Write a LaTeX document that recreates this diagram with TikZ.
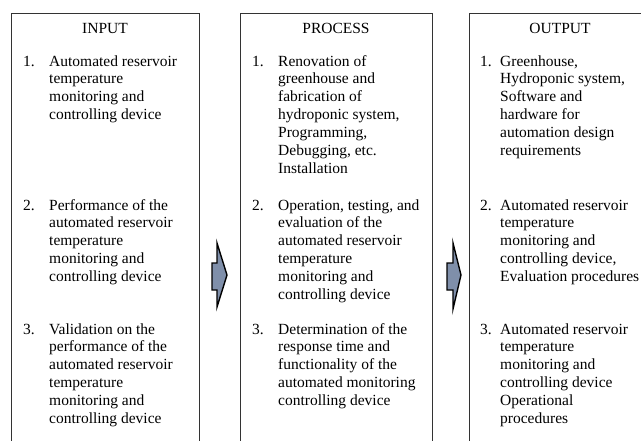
\documentclass[tikz,border=0pt]{standalone}
\usepackage{fontspec}
\setmainfont{Liberation Serif}
\definecolor{arrowfill}{RGB}{127,143,170}
\newcommand{\itemfont}{\fontsize{15.5}{17.9}\selectfont}
\tikzset{
    colbox/.style={draw=black!80, line width=0.9pt, anchor=north west, minimum width=188pt, minimum height=460pt, inner sep=0pt},
    colhead/.style={anchor=base, font=\itemfont, inner sep=0pt},
    itemnum/.style={anchor=base west, font=\itemfont, inner sep=0pt},
    % a text is placed by the baseline of its last line
    itemtext/.style={anchor=base west, align=left, font=\itemfont, inner sep=0pt},
    flowarrow/.style={draw=black, line width=1.4pt, line join=miter, fill=arrowfill}
}
\begin{document}
\begin{tikzpicture}[x=1pt,y=-1pt]
            \clip (0,0) rectangle (641,440);

            % the three columns
            \node[colbox] (inbox) at (11,13) {};
            \node[colbox, minimum width=192pt] (prbox) at (240,13) {};
            \node[colbox, minimum width=182pt] (outbox) at (469,13) {};

            \node[colhead] (IN) at (105,33) {INPUT};
            \node[colhead] (PR) at (336,33) {PROCESS};
            \node[colhead] (OUT) at (560,33) {OUTPUT};

            % input
            \node[itemnum] (nI1) at (23,66) {1.};
            \node[itemtext] (I1) at (49,119.7) {Automated reservoir\\temperature\\monitoring and\\controlling device};
            \node[itemnum] (nI2) at (23,210) {2.};
            \node[itemtext] (I2) at (49,281.6) {Performance of the\\automated reservoir\\temperature\\monitoring and\\controlling device};
            \node[itemnum] (nI3) at (23,334) {3.};
            \node[itemtext] (I3) at (49,423.5) {Validation on the\\performance of the\\automated reservoir\\temperature\\monitoring and\\controlling device};

            % process
            \node[itemnum] (nP1) at (252,66) {1.};
            \node[itemtext] (P1) at (278,173.4) {Renovation of\\greenhouse and\\fabrication of\\hydroponic system,\\Programming,\\Debugging, etc.\\Installation};
            \node[itemnum] (nP2) at (252,210) {2.};
            \node[itemtext] (P2) at (278,299.5) {Operation, testing, and\\evaluation of the\\automated reservoir\\temperature\\monitoring and\\controlling device};
            \node[itemnum] (nP3) at (252,334) {3.};
            \node[itemtext] (P3) at (278,405.6) {Determination of the\\response time and\\functionality of the\\automated monitoring\\controlling device};

            % output
            \node[itemnum] (nO1) at (480,66) {1.};
            \node[itemtext] (O1) at (500,155.5) {Greenhouse,\\Hydroponic system,\\Software and\\hardware for\\automation design\\requirements};
            \node[itemnum] (nO2) at (480,210) {2.};
            \node[itemtext] (O2) at (500,281.6) {Automated reservoir\\temperature\\monitoring and\\controlling device,\\Evaluation procedures};
            \node[itemnum] (nO3) at (480,334) {3.};
            \node[itemtext] (O3) at (500,423.5) {Automated reservoir\\temperature\\monitoring and\\controlling device\\Operational\\procedures};

            % block arrows between the columns
            \draw[flowarrow] (212,263) -- (217,263) -- (217,243) -- (227,275) -- (217,307) -- (217,290) -- (212,290) -- cycle;
            \draw[flowarrow] (447,263) -- (453,263) -- (453,243) -- (461,275) -- (453,309) -- (453,290) -- (447,290) -- cycle;
        \end{tikzpicture}
\end{document}
